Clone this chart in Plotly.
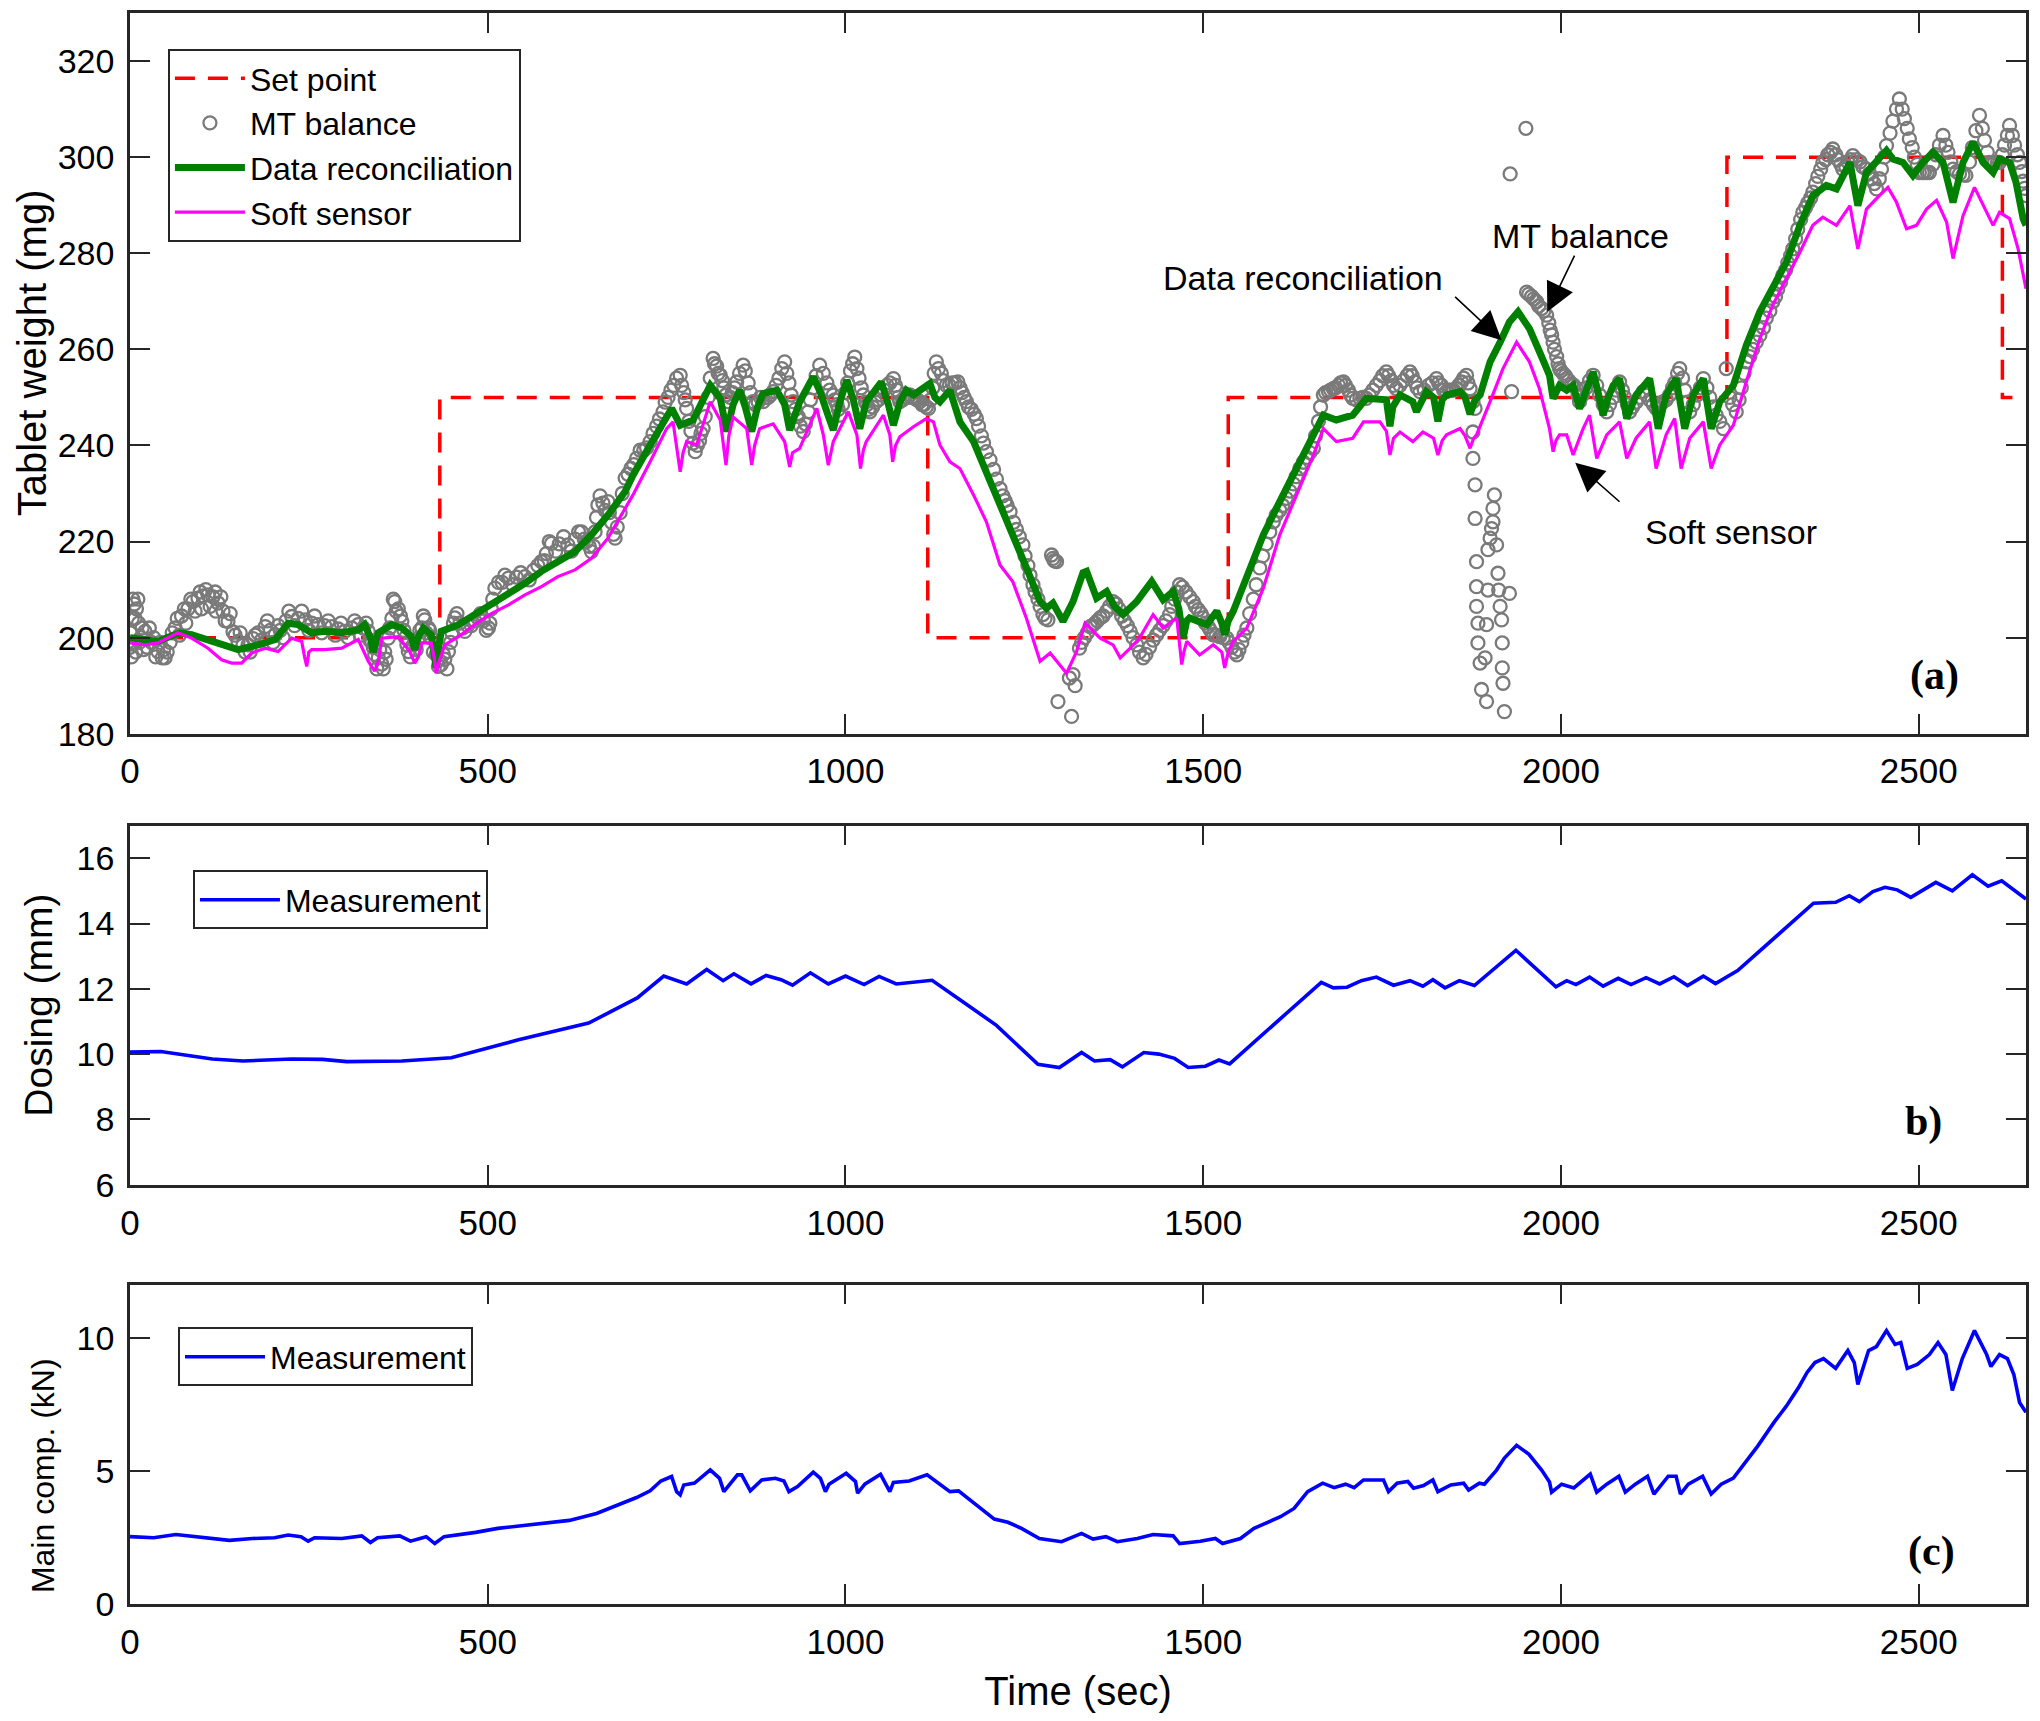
import plotly.graph_objects as go

# ---------------- data ----------------
setpoint_t = [0, 433, 433, 1115, 1115, 1535, 1535, 2232, 2232, 2617, 2617, 2631]
setpoint_v = [200, 200, 250, 250, 200, 200, 250, 250, 300, 300, 250, 250]

recon_pts = [
    (0, 200.0), (20, 199.5), (39, 199.2), (55, 200.2), (70, 201.0), (86, 200.6), (109, 199.6), (133, 198.2),
    (151, 197.5), (179, 198.5), (203, 199.6), (221, 203.0), (235, 202.7), (254, 201.0), (272, 201.3), (296, 201.0),
    (319, 201.6), (328, 202.7), (336, 200.0), (340, 197.0), (344, 199.5), (347, 201.0), (366, 202.7), (380, 202.0),
    (393, 200.3), (398, 197.5), (404, 200.5), (410, 202.0), (421, 200.6), (426, 196.0), (428, 193.7), (431, 197.5),
    (435, 201.3), (459, 202.7), (482, 204.8), (505, 206.8), (529, 208.9), (552, 211.3), (575, 213.8), (598, 215.8),
    (622, 217.9), (645, 221.4), (668, 225.5), (692, 230.4), (703, 233.8), (727, 240.1), (750, 246.3), (757, 247.7),
    (763, 246.0), (769, 244.2), (787, 245.3), (800, 249.0), (811, 252.5), (825, 249.8), (834, 242.9), (843, 248.5),
    (852, 251.5), (860, 248.0), (869, 242.9), (877, 248.0), (885, 250.8), (904, 251.5), (915, 248.5), (922, 243.2),
    (929, 246.0), (936, 249.1), (955, 254.3), (965, 251.0), (974, 247.0), (983, 243.2), (992, 249.0), (1002, 253.6),
    (1011, 249.5), (1020, 243.5), (1029, 249.1), (1040, 251.0), (1050, 253.2), (1060, 248.5), (1067, 244.2),
    (1076, 249.0), (1085, 251.5), (1095, 250.5), (1104, 251.5), (1118, 252.9), (1125, 250.0), (1132, 249.1),
    (1146, 251.5), (1160, 244.9), (1179, 240.8), (1197, 234.5), (1216, 228.3), (1234, 221.4), (1253, 214.5),
    (1272, 207.5), (1281, 206.1), (1290, 207.2), (1304, 203.4), (1318, 207.5), (1332, 213.5), (1337, 213.8),
    (1351, 208.2), (1365, 209.6), (1376, 206.5), (1388, 204.8), (1407, 207.5), (1428, 211.7), (1444, 207.9),
    (1458, 209.6), (1466, 206.0), (1472, 199.9), (1477, 203.5), (1481, 204.1), (1505, 202.7), (1519, 205.5),
    (1526, 203.0), (1530, 200.6), (1535, 203.5), (1542, 205.5), (1561, 213.1), (1584, 221.4), (1607, 228.3),
    (1630, 235.2), (1654, 242.2), (1668, 246.3), (1686, 245.3), (1709, 246.3), (1728, 249.8), (1747, 249.8),
    (1756, 249.5), (1761, 244.0), (1765, 248.0), (1775, 250.5), (1793, 249.1), (1798, 247.0), (1805, 249.5),
    (1812, 251.2), (1822, 250.0), (1828, 245.0), (1834, 249.5), (1840, 250.5), (1859, 251.2), (1866, 250.0),
    (1873, 246.5), (1880, 249.5), (1887, 250.5), (1901, 257.4), (1915, 261.5), (1928, 265.7), (1940, 267.8),
    (1956, 264.3), (1970, 259.5), (1984, 254.6), (1989, 249.8), (1998, 252.5), (2008, 251.5), (2017, 252.5),
    (2026, 247.7), (2035, 251.5), (2045, 255.3), (2052, 251.0), (2059, 246.3), (2066, 250.0), (2073, 252.5),
    (2082, 253.9), (2092, 245.6), (2105, 250.5), (2124, 253.9), (2136, 243.5), (2147, 250.5), (2161, 253.9),
    (2173, 243.5), (2185, 250.5), (2199, 253.9), (2210, 243.5), (2222, 249.1), (2241, 252.5), (2259, 260.8),
    (2278, 267.8), (2296, 272.6), (2315, 278.1), (2334, 285.8), (2352, 292.0), (2371, 294.1), (2385, 293.4),
    (2404, 298.9), (2415, 289.9), (2427, 296.8), (2445, 299.6), (2455, 301.4), (2464, 299.6), (2478, 298.9),
    (2492, 296.2), (2506, 298.9), (2520, 301.0), (2534, 298.9), (2548, 290.6), (2562, 298.9), (2576, 303.1),
    (2590, 298.9), (2604, 296.8), (2613, 299.6), (2627, 298.9), (2636, 294.8), (2646, 287.2), (2650, 285.8),
]

soft_pts = [
    (0, 198.9), (21, 198.5), (39, 198.9), (55, 200.0), (67, 201.0), (86, 199.9), (109, 197.8), (128, 195.4),
    (142, 194.7), (156, 194.7), (170, 196.8), (189, 197.8), (207, 197.1), (226, 199.9), (240, 199.2), (244, 196.0),
    (247, 194.0), (250, 197.0), (254, 197.5), (272, 197.5), (296, 197.8), (319, 199.6), (333, 195.1), (342, 193.0),
    (347, 195.0), (352, 199.9), (375, 200.2), (391, 197.1), (398, 194.7), (403, 196.0), (408, 198.9), (421, 198.9),
    (425, 196.0), (428, 192.6), (432, 195.0), (440, 198.5), (459, 200.2), (482, 202.7), (505, 205.0), (529, 206.8),
    (552, 208.9), (575, 210.6), (598, 212.7), (622, 214.1), (645, 216.5), (668, 220.7), (692, 226.9), (703, 229.7),
    (727, 236.6), (750, 243.5), (759, 244.9), (765, 238.0), (769, 234.5), (773, 238.5), (778, 240.8), (792, 240.1),
    (811, 249.1), (825, 245.3), (829, 241.0), (833, 235.9), (837, 242.0), (843, 245.9), (862, 243.5), (866, 239.0),
    (869, 235.9), (873, 240.0), (880, 243.5), (899, 244.5), (915, 240.8), (922, 235.5), (926, 238.5), (936, 239.4),
    (960, 247.7), (969, 242.2), (976, 235.9), (983, 240.8), (1004, 247.0), (1016, 242.2), (1021, 235.2),
    (1025, 239.0), (1029, 240.8), (1053, 246.3), (1062, 242.2), (1066, 236.6), (1070, 240.0), (1076, 241.8),
    (1095, 243.9), (1113, 245.6), (1123, 244.9), (1132, 240.1), (1146, 236.6), (1160, 235.2), (1179, 229.7),
    (1197, 224.1), (1216, 215.1), (1234, 211.6), (1253, 204.0), (1272, 195.1), (1286, 196.8), (1309, 192.6),
    (1323, 197.1), (1335, 203.0), (1342, 202.0), (1356, 199.9), (1374, 198.5), (1384, 195.8), (1398, 197.8),
    (1411, 199.9), (1430, 204.8), (1444, 202.0), (1463, 204.1), (1467, 199.0), (1470, 194.4), (1473, 197.0),
    (1477, 199.2), (1495, 196.4), (1514, 198.5), (1526, 197.0), (1530, 193.7), (1535, 197.0), (1542, 199.2),
    (1561, 202.0), (1584, 210.3), (1607, 221.4), (1630, 229.7), (1654, 238.0), (1668, 243.5), (1686, 240.8),
    (1709, 241.5), (1724, 244.9), (1747, 244.9), (1756, 243.0), (1761, 238.0), (1766, 241.5), (1775, 242.8),
    (1793, 240.8), (1807, 242.8), (1822, 241.5), (1828, 238.0), (1834, 241.0), (1840, 242.2), (1859, 243.5),
    (1866, 242.0), (1873, 239.4), (1878, 241.5), (1882, 242.2), (1901, 249.1), (1919, 256.0), (1938, 261.5),
    (1956, 257.4), (1970, 251.8), (1984, 243.5), (1989, 238.7), (1993, 241.0), (1998, 242.2), (2008, 242.2),
    (2017, 238.0), (2031, 243.5), (2040, 246.3), (2050, 237.3), (2064, 242.2), (2082, 244.9), (2092, 237.3),
    (2105, 241.5), (2124, 244.9), (2133, 235.2), (2147, 242.2), (2159, 245.6), (2168, 235.2), (2180, 241.5),
    (2199, 244.9), (2210, 235.2), (2222, 240.1), (2241, 244.2), (2259, 253.2), (2278, 262.2), (2296, 269.2),
    (2315, 274.7), (2334, 280.2), (2352, 285.8), (2366, 287.5), (2385, 285.8), (2404, 289.9), (2415, 280.9),
    (2427, 289.2), (2445, 292.0), (2457, 293.7), (2469, 290.6), (2483, 285.1), (2497, 285.8), (2511, 289.2),
    (2525, 291.0), (2539, 286.5), (2548, 278.9), (2562, 287.8), (2578, 293.7), (2590, 289.9), (2604, 285.8),
    (2613, 288.5), (2627, 287.2), (2639, 280.9), (2646, 275.4), (2650, 272.6),
]

# MT balance: centre of the circle band, isolated outliers, and a second row of circles spread across the band
mt_pts = [
    (0, 198), (3, 204), (6, 207), (9, 206), (12, 203), (15, 200), (21, 201.3), (30, 199), (39, 197.1), (45, 195.8),
    (49, 195.8), (56, 199), (63, 202), (72, 204.5), (81, 206), (88, 207.5), (95, 208.2), (102, 208.7), (109, 208.9),
    (116, 208.5), (123, 207.2), (130, 205.5), (137, 203.4), (144, 201.2), (151, 199.2), (158, 198.5), (165, 198.5),
    (172, 199.8), (179, 201), (189, 202.3), (196, 201.5), (203, 200.6), (210, 201.5), (218, 203.5), (226, 204.4),
    (235, 204), (245, 203.7), (254, 203), (263, 202.7), (272, 202.5), (282, 202.3), (291, 201.8), (300, 201.3),
    (310, 202), (319, 202.7), (326, 202), (333, 201.3), (338, 199), (342, 196.5), (347, 195.8), (352, 194.5),
    (356, 197), (361, 199.9), (366, 204), (370, 207.5), (375, 206), (380, 203.4), (385, 200), (389, 197.1),
    (396, 198.5), (403, 199.9), (408, 202), (412, 203.7), (417, 202), (421, 199.9), (428, 196.5), (435, 194.4),
    (440, 195.5), (445, 197.1), (450, 201), (454, 204.1), (461, 203), (468, 201.3), (477, 202.5), (487, 204.1),
    (494, 203.5), (501, 202), (505, 206), (510, 210.3), (520, 211.5), (529, 212.4), (540, 212.6), (552, 212.7),
    (564, 214), (575, 215.8), (582, 217.5), (589, 219.6), (600, 219.5), (612, 219.3), (622, 220.5), (631, 222),
    (638, 220), (645, 217.9), (650, 222), (654, 227.6), (661, 228), (668, 228.3), (673, 224), (678, 220.7),
    (685, 226), (692, 233.2), (700, 235.2), (708, 237.3), (718, 239), (727, 240.8), (736, 244), (745, 247),
    (752, 250), (760, 252.5), (769, 254.6), (774, 251), (778, 247.7), (784, 243), (790, 238.7), (796, 241),
    (801, 243.5), (808, 250), (815, 258.1), (820, 256.5), (825, 254.6), (830, 252), (836, 249.1), (842, 251),
    (848, 253.2), (857, 256.7), (864, 253), (871, 249.1), (878, 249), (885, 249.1), (892, 250), (899, 251.2),
    (907, 254), (915, 257.4), (921, 253), (927, 249.1), (934, 246), (941, 242.9), (948, 247), (955, 252),
    (964, 256.7), (974, 253), (983, 250.5), (988, 248.5), (992, 246.3), (1000, 251), (1007, 255.5), (1013, 258.4),
    (1019, 254), (1025, 250.5), (1030, 248.5), (1034, 247), (1042, 249), (1050, 250.5), (1058, 252.5),
    (1067, 253.9), (1072, 251.5), (1076, 249.1), (1083, 250), (1090, 250.5), (1097, 249.8), (1104, 249.1),
    (1110, 248.5), (1116, 247.7), (1122, 252), (1127, 257.4), (1134, 255), (1141, 252.5), (1149, 253),
    (1157, 253.2), (1163, 251), (1169, 249.1), (1176, 247.5), (1183, 245.6), (1190, 242), (1197, 238.7),
    (1207, 235), (1216, 231), (1223, 228.5), (1230, 226.2), (1239, 222.5), (1248, 219.3), (1255, 215), (1262, 211),
    (1269, 208), (1276, 204.8), (1283, 203.7), (1288, 217.2), (1292, 216), (1295, 215.8), (1297, 186.7),
    (1313, 191.6), (1316, 183.6), (1318, 192.3), (1321, 190), (1327, 197.8), (1334, 200), (1342, 202.3),
    (1349, 203), (1356, 204.1), (1365, 205.5), (1374, 207.5), (1382, 206), (1390, 203.5), (1398, 201.3),
    (1407, 198.5), (1416, 195.8), (1425, 198), (1435, 200.6), (1444, 202.5), (1453, 204.8), (1460, 208),
    (1467, 211), (1476, 209.5), (1486, 207.5), (1493, 205.8), (1500, 204.1), (1507, 202.3), (1514, 200.6),
    (1523, 200.2), (1533, 199.9), (1540, 198), (1547, 196.4), (1554, 199), (1561, 202), (1570, 208), (1579, 214.5),
    (1588, 219.5), (1598, 224.1), (1607, 226.5), (1616, 229), (1626, 232), (1635, 235.2), (1645, 237.5),
    (1654, 239.4), (1661, 245), (1668, 250.5), (1675, 251.2), (1682, 251.8), (1689, 252.5), (1696, 253.2),
    (1703, 251.5), (1709, 249.8), (1719, 249.8), (1728, 249.8), (1737, 251.5), (1747, 253.5), (1756, 255.3),
    (1763, 253.5), (1770, 251.8), (1780, 253.5), (1789, 255.3), (1796, 253.2), (1803, 251.2), (1815, 252.5),
    (1826, 253.9), (1833, 252.5), (1840, 251.2), (1847, 251.5), (1854, 251.8), (1861, 253.2), (1868, 254.6),
    (1873, 251.8), (1877, 249.1), (1880, 247.7), (1877, 242.8), (1877, 237.3), (1880, 231.8), (1880, 224.8),
    (1882, 215.8), (1882, 210.6), (1882, 206.5), (1884, 203), (1884, 198.9), (1887, 194.7), (1889, 189.2),
    (1896, 186.7), (1894, 195.8), (1896, 202.7), (1898, 209.9), (1898, 218.3), (1901, 220.7), (1903, 222.7),
    (1905, 224.1), (1907, 229.7), (1905, 226.9), (1910, 219.3), (1912, 213.4), (1913, 209.9), (1915, 206.5),
    (1917, 203.7), (1918, 198.9), (1918, 193.7), (1919, 190.5), (1921, 184.6), (1928, 209.2), (1931, 251.2),
    (1929, 296.5), (1951, 306.0), (1952, 271.9), (1959, 271), (1966, 269.9), (1973, 268.5), (1980, 267.1),
    (1985, 264), (1989, 261.5), (1994, 258.5), (1998, 256), (2003, 255), (2008, 253.9), (2015, 252.8),
    (2022, 251.8), (2026, 249.1), (2035, 252), (2045, 254.6), (2054, 250.5), (2064, 247), (2073, 250),
    (2082, 253.2), (2089, 250), (2096, 247), (2105, 249), (2115, 251.2), (2124, 249.5), (2133, 247.7), (2142, 249),
    (2152, 250.5), (2159, 253), (2166, 256), (2173, 251.5), (2180, 247), (2190, 250.5), (2199, 253.9), (2208, 250),
    (2217, 246.3), (2227, 243.5), (2231, 256), (2236, 250), (2245, 247), (2252, 252), (2259, 257.4), (2268, 260),
    (2278, 262.9), (2287, 266.5), (2296, 269.9), (2303, 272.5), (2310, 275.4), (2317, 278), (2324, 280.9),
    (2331, 285), (2338, 288.5), (2345, 290.5), (2352, 292.7), (2359, 296), (2366, 298.9), (2373, 300.5),
    (2380, 301.7), (2387, 299.5), (2394, 297.5), (2401, 299), (2408, 300.3), (2418, 299), (2427, 297.5),
    (2434, 295.5), (2441, 293.4), (2448, 297.5), (2455, 302.4), (2464, 307.5), (2473, 312.1), (2480, 308),
    (2487, 303.8), (2494, 300), (2501, 296.8), (2508, 296.8), (2515, 296.8), (2524, 300.5), (2534, 304.5),
    (2541, 301), (2548, 297.5), (2557, 296.5), (2566, 296.2), (2575, 302), (2585, 308.7), (2592, 303.5),
    (2599, 298.9), (2606, 298.9), (2613, 298.9), (2620, 302.5), (2627, 306.6), (2634, 302.5), (2641, 298.9),
    (2646, 295), (2650, 292),
]

mt_band_pts = [
    (1, 201), (2, 196), (4, 208), (5, 199), (7, 204), (8, 197), (11, 208), (13, 199), (17, 202), (19, 197.5),
    (24, 198), (27, 202), (33, 200), (36, 196), (42, 199), (47, 197.5), (52, 197), (59, 201), (66, 204),
    (69, 200.5), (76, 206), (78, 203), (85, 208), (91, 205.5), (98, 209.5), (100, 206), (106, 210), (112, 206.5),
    (119, 209.5), (120, 205.5), (127, 208.5), (133, 203.5), (140, 205), (147, 200.5), (154, 201), (161, 197),
    (168, 197), (175, 200.5), (184, 199.5), (192, 203.5), (200, 199), (207, 202.5), (214, 200), (222, 205.5),
    (230, 202.5), (240, 205.5), (250, 201.5), (258, 204.5), (268, 201), (277, 203.5), (287, 200.5), (295, 203),
    (305, 200), (314, 203.5), (322, 200.5), (330, 203), (335, 199.5), (340, 198), (345, 193.5), (349, 197.5),
    (354, 193.5), (358, 195.5), (363, 202), (368, 208), (372, 205.5), (378, 204.5), (383, 201.5), (387, 198.5),
    (392, 196), (400, 197.5), (405, 201.5), (410, 204.5), (414, 201), (419, 201.5), (424, 197), (431, 194),
    (438, 196.5), (443, 193.5), (448, 199), (452, 203), (457, 205), (465, 202), (472, 202.5), (482, 203.5),
    (490, 205), (498, 201.5), (503, 203), (507, 208), (515, 211.5), (524, 213), (535, 211), (546, 213.5),
    (558, 212), (570, 215), (579, 216), (586, 220), (595, 218), (606, 221), (617, 218), (627, 222), (635, 220.5),
    (642, 219), (648, 219), (652, 225), (657, 229.5), (664, 226.5), (670, 226), (676, 221.5), (681, 223),
    (688, 230), (696, 234), (704, 236), (713, 239), (722, 239.5), (731, 242.5), (740, 245.5), (748, 249),
    (756, 251.5), (764, 254), (771, 252.5), (776, 249.5), (781, 245), (787, 240.5), (793, 240), (798, 242.5),
    (804, 246), (811, 254), (817, 257), (822, 255), (828, 253.5), (833, 250.5), (839, 250), (845, 252),
    (852, 255), (860, 255.5), (867, 251), (874, 248.5), (881, 250), (888, 250), (895, 250.5), (903, 252.5),
    (911, 256), (918, 255), (924, 250.5), (930, 247.5), (937, 244), (944, 244.5), (951, 249.5), (959, 254.5),
    (969, 255), (978, 251.5), (985, 249.5), (990, 247.5), (996, 248.5), (1003, 253), (1010, 257), (1016, 256),
    (1022, 252), (1028, 249), (1032, 247.5), (1038, 248), (1046, 249.5), (1054, 251.5), (1062, 253),
    (1070, 252.5), (1074, 250), (1080, 249.5), (1087, 250), (1093, 250), (1100, 249.5), (1107, 248.5),
    (1113, 248), (1119, 249.5), (1124, 255), (1130, 256), (1137, 253.5), (1145, 252.5), (1153, 253),
    (1160, 252), (1166, 250), (1172, 248), (1180, 246.5), (1186, 244), (1193, 240.5), (1202, 237), (1211, 233),
    (1220, 229.5), (1226, 227.5), (1235, 224), (1243, 221), (1251, 217), (1258, 213), (1265, 209.5),
    (1272, 206.5), (1279, 204), (1290, 216.5), (1330, 199), (1338, 201), (1345, 202.5), (1352, 203.5),
    (1360, 204.5), (1369, 206.5), (1378, 207), (1386, 204.5), (1394, 202.5), (1402, 200), (1411, 197),
    (1420, 196.5), (1430, 199.5), (1439, 201.5), (1448, 203.5), (1456, 206.5), (1463, 209.5), (1471, 210.5),
    (1481, 208.5), (1489, 206.5), (1497, 205), (1503, 203), (1510, 201.5), (1518, 200.5), (1528, 200),
    (1536, 199), (1544, 197), (1550, 197.5), (1557, 200.5), (1565, 205), (1574, 211), (1583, 217), (1593, 222),
    (1602, 225.5), (1611, 227.5), (1621, 230.5), (1630, 233.5), (1640, 236.5), (1649, 238.5), (1657, 242),
    (1664, 248), (1671, 251), (1678, 251.5), (1685, 252), (1692, 253), (1699, 252.5), (1706, 250.5),
    (1714, 249.5), (1723, 250), (1732, 250.5), (1742, 252.5), (1751, 254.5), (1759, 254.5), (1766, 252.5),
    (1775, 252.5), (1785, 254.5), (1792, 254.5), (1799, 252), (1809, 251.5), (1820, 253), (1829, 253),
    (1836, 251.5), (1844, 251.5), (1850, 251.5), (1857, 252.5), (1864, 254), (1870, 253), (1955, 271.5),
    (1962, 270.5), (1969, 269), (1976, 268), (1983, 265.5), (1987, 263), (1991, 260), (1996, 257), (2000, 255.5),
    (2006, 254.5), (2011, 253.5), (2018, 252.5), (2024, 250.5), (2030, 250.5), (2040, 253.5), (2050, 252.5),
    (2059, 248.5), (2068, 248.5), (2077, 251.5), (2086, 251.5), (2093, 248.5), (2100, 248), (2110, 250),
    (2120, 250.5), (2129, 248.5), (2138, 248.5), (2147, 249.5), (2156, 252), (2163, 255), (2170, 254),
    (2177, 249), (2185, 248.5), (2195, 252), (2204, 252), (2213, 248), (2222, 245), (2240, 248.5), (2249, 249.5),
    (2256, 255), (2264, 258.5), (2273, 261.5), (2283, 264.5), (2292, 268), (2300, 271), (2307, 274),
    (2314, 276.5), (2321, 279.5), (2328, 283), (2335, 287), (2342, 289.5), (2349, 291.5), (2356, 294.5),
    (2363, 297.5), (2370, 299.5), (2377, 301), (2384, 300.5), (2391, 298.5), (2398, 298), (2405, 299.5),
    (2413, 299.5), (2422, 298), (2431, 296.5), (2438, 294.5), (2445, 295.5), (2452, 300), (2460, 305),
    (2469, 310), (2477, 310), (2484, 306), (2491, 302), (2498, 298.5), (2505, 296.8), (2512, 296.8),
    (2520, 298.5), (2529, 302.5), (2538, 302.5), (2545, 299), (2553, 297), (2562, 296.3), (2571, 299),
    (2580, 305.5), (2589, 306), (2596, 301), (2603, 298.9), (2610, 298.9), (2617, 300.5), (2624, 304.5),
    (2631, 304.5), (2638, 300.5), (2644, 297), (2648, 293.5),
]

dosing_pts = [
    (0, 10.06), (43, 10.08), (115, 9.85), (158, 9.79), (226, 9.85), (269, 9.84), (303, 9.77), (380, 9.79),
    (449, 9.89), (543, 10.44), (641, 10.95), (709, 11.72), (746, 12.39), (778, 12.15), (806, 12.59), (829, 12.25),
    (844, 12.46), (868, 12.15), (889, 12.41), (910, 12.28), (926, 12.11), (951, 12.49), (976, 12.15), (1000, 12.39),
    (1026, 12.13), (1047, 12.38), (1071, 12.15), (1098, 12.21), (1121, 12.26), (1167, 11.56), (1211, 10.88),
    (1269, 9.69), (1299, 9.59), (1330, 10.05), (1348, 9.79), (1370, 9.83), (1387, 9.61), (1417, 10.05),
    (1438, 10.0), (1460, 9.87), (1479, 9.59), (1503, 9.63), (1522, 9.82), (1537, 9.70), (1665, 12.2),
    (1682, 12.03), (1701, 12.05), (1721, 12.25), (1742, 12.36), (1766, 12.11), (1789, 12.25), (1807, 12.08),
    (1821, 12.28), (1838, 12.03), (1858, 12.25), (1879, 12.1), (1937, 13.18), (1993, 12.06), (2008, 12.25),
    (2021, 12.13), (2040, 12.36), (2059, 12.08), (2080, 12.32), (2098, 12.13), (2119, 12.34), (2138, 12.15),
    (2158, 12.37), (2177, 12.1), (2199, 12.39), (2216, 12.16), (2247, 12.56), (2353, 14.62), (2384, 14.65),
    (2403, 14.85), (2417, 14.67), (2436, 14.98), (2453, 15.11), (2470, 15.03), (2489, 14.8), (2524, 15.26),
    (2547, 15.0), (2575, 15.49), (2597, 15.14), (2616, 15.31), (2650, 14.75),
]

comp_pts = [
    (0, 2.53), (33, 2.49), (64, 2.61), (96, 2.53), (139, 2.39), (171, 2.46), (202, 2.49), (221, 2.59), (239, 2.53),
    (249, 2.36), (258, 2.49), (296, 2.46), (324, 2.56), (336, 2.31), (346, 2.49), (377, 2.56), (392, 2.36),
    (414, 2.53), (426, 2.27), (439, 2.53), (483, 2.69), (514, 2.84), (546, 2.93), (577, 3.02), (614, 3.14),
    (652, 3.40), (683, 3.72), (708, 4.0), (727, 4.25), (742, 4.62), (757, 4.79), (764, 4.22), (769, 4.10),
    (774, 4.47), (789, 4.54), (811, 5.04), (824, 4.72), (830, 4.22), (849, 4.85), (855, 4.85), (867, 4.25),
    (883, 4.66), (902, 4.72), (914, 4.62), (921, 4.22), (933, 4.41), (955, 4.95), (965, 4.72), (972, 4.22),
    (977, 4.5), (1001, 4.91), (1014, 4.6), (1017, 4.16), (1027, 4.5), (1049, 4.87), (1062, 4.22), (1067, 4.57),
    (1089, 4.62), (1114, 4.85), (1127, 4.6), (1146, 4.22), (1158, 4.25), (1189, 3.59), (1208, 3.19), (1227, 3.07),
    (1246, 2.84), (1271, 2.46), (1302, 2.34), (1330, 2.65), (1346, 2.44), (1364, 2.53), (1380, 2.34), (1408, 2.46),
    (1430, 2.61), (1458, 2.56), (1467, 2.27), (1496, 2.36), (1517, 2.46), (1527, 2.27), (1552, 2.46), (1571, 2.84),
    (1608, 3.28), (1627, 3.59), (1646, 4.22), (1667, 4.54), (1683, 4.37), (1699, 4.5), (1711, 4.37), (1724, 4.66),
    (1752, 4.66), (1759, 4.22), (1771, 4.54), (1786, 4.6), (1794, 4.35), (1808, 4.45), (1821, 4.66), (1828, 4.22),
    (1846, 4.47), (1864, 4.54), (1871, 4.28), (1886, 4.54), (1893, 4.5), (1910, 5.03), (1921, 5.48), (1938, 5.96),
    (1955, 5.63), (1973, 5.03), (1984, 4.58), (1987, 4.2), (2001, 4.5), (2018, 4.36), (2041, 4.88), (2050, 4.2),
    (2064, 4.5), (2081, 4.8), (2090, 4.2), (2104, 4.5), (2121, 4.8), (2130, 4.13), (2150, 4.8), (2161, 4.8),
    (2167, 4.13), (2178, 4.5), (2198, 4.8), (2210, 4.13), (2224, 4.5), (2241, 4.73), (2258, 5.33), (2275, 5.93),
    (2298, 6.83), (2315, 7.43), (2333, 8.17), (2344, 8.7), (2355, 9.07), (2367, 9.22), (2384, 8.85), (2401, 9.52),
    (2410, 9.07), (2415, 8.25), (2430, 9.52), (2441, 9.67), (2455, 10.27), (2467, 9.75), (2475, 9.82),
    (2484, 8.85), (2498, 9.0), (2515, 9.37), (2527, 9.82), (2538, 9.37), (2547, 8.02), (2561, 9.22), (2578, 10.27),
    (2595, 9.37), (2601, 8.92), (2613, 9.37), (2624, 9.22), (2633, 8.62), (2641, 7.57), (2644, 7.43), (2650, 7.2),
]

x_ticks = [0, 500, 1000, 1500, 2000, 2500]
ya_ticks = [180, 200, 220, 240, 260, 280, 300, 320]
yb_ticks = [6, 8, 10, 12, 14, 16]
yc_ticks = [0, 5, 10]

# ---------------- figure ----------------
FONT = "Liberation Sans, Arial, Helvetica, sans-serif"
AX = "#262626"


def cols(pts):
    return [p[0] for p in pts], [p[1] for p in pts]


fig = go.Figure()

fig.add_trace(go.Scatter(x=setpoint_t, y=setpoint_v, mode="lines", name="Set point",
                         line=dict(color="#FF0000", width=3.5, dash="20px,13px"),
                         xaxis="x", yaxis="y", legend="legend"))
mt_t, mt_v = cols(mt_pts + mt_band_pts)
fig.add_trace(go.Scatter(x=mt_t, y=mt_v, mode="markers", name="MT balance",
                         marker=dict(symbol="circle-open", size=13, color="#7A7A7A",
                                     line=dict(width=2.3, color="#7A7A7A")),
                         xaxis="x", yaxis="y", legend="legend"))
rc_t, rc_v = cols(recon_pts)
fig.add_trace(go.Scatter(x=rc_t, y=rc_v, mode="lines", name="Data reconciliation",
                         line=dict(color="#008000", width=7),
                         xaxis="x", yaxis="y", legend="legend"))
ss_t, ss_v = cols(soft_pts)
fig.add_trace(go.Scatter(x=ss_t, y=ss_v, mode="lines", name="Soft sensor",
                         line=dict(color="#FF00FF", width=3.2),
                         xaxis="x", yaxis="y", legend="legend"))

ds_t, ds_v = cols(dosing_pts)
fig.add_trace(go.Scatter(x=ds_t, y=ds_v, mode="lines", name="Measurement",
                         line=dict(color="#0000FF", width=3.6),
                         xaxis="x2", yaxis="y2", legend="legend2"))
cp_t, cp_v = cols(comp_pts)
fig.add_trace(go.Scatter(x=cp_t, y=cp_v, mode="lines", name="Measurement",
                         line=dict(color="#0000FF", width=3.6),
                         xaxis="x3", yaxis="y3", legend="legend3"))


def xax(anchor, title=None):
    d = dict(domain=[0, 1], anchor=anchor, range=[0, 2650], tickmode="array", tickvals=x_ticks,
             ticks="inside", ticklen=20, tickwidth=2, tickcolor=AX, showline=True, linecolor=AX,
             linewidth=2.5, mirror="ticks", showgrid=False, zeroline=False,
             tickfont=dict(family=FONT, size=35, color="black"), ticklabelstandoff=5)
    if title:
        d["title"] = dict(text=title, font=dict(family=FONT, size=40, color="black"), standoff=20)
    return d


def yax(anchor, dom, rng, tv, title=None, tsize=38):
    d = dict(domain=dom, anchor=anchor, range=rng, tickmode="array", tickvals=tv,
             ticks="inside", ticklen=20, tickwidth=2, tickcolor=AX, showline=True, linecolor=AX,
             linewidth=2.5, mirror="ticks", showgrid=False, zeroline=False,
             tickfont=dict(family=FONT, size=34, color="black"), ticklabelstandoff=6)
    if title:
        d["title"] = dict(text=title, font=dict(family=FONT, size=tsize, color="black"), standoff=12)
    return d


leg_common = dict(font=dict(family=FONT, size=32, color="black"), bgcolor="white",
                  bordercolor=AX, borderwidth=2, xanchor="left", yanchor="top", tracegroupgap=0)

fig.update_layout(
    width=2024, height=1705,
    margin=dict(l=122, r=6, t=2, b=109),
    paper_bgcolor="white", plot_bgcolor="white",
    font=dict(family=FONT, color="black"),
    xaxis=xax("y"), xaxis2=xax("y2"), xaxis3=xax("y3", "Time (sec)"),
    yaxis=yax("x", [0.547, 1.0], [180, 330], ya_ticks),
    yaxis2=yax("x2", [0.2635, 0.4893], [6, 17], yb_ticks, "Dosing (mm)", 39),
    yaxis3=yax("x3", [0.0, 0.2008], [0, 12], yc_ticks),
    legend=dict(x=0.020, y=0.9774, itemwidth=70, **leg_common),
    legend2=dict(x=0.0332, y=0.4611, itemwidth=80, **leg_common),
    legend3=dict(x=0.0253, y=0.1738, itemwidth=80, **leg_common),
    showlegend=True,
)

# y-axis titles of panels (a) and (c), placed where the reference has them
fig.add_annotation(x=-0.0517, y=0.7867, xref="paper", yref="paper", text="Tablet weight (mg)", textangle=-90,
                   showarrow=False, xanchor="center", yanchor="middle",
                   font=dict(family=FONT, size=40, color="black"))
fig.add_annotation(x=-0.0459, y=0.081, xref="paper", yref="paper", text="Main comp. (kN)", textangle=-90,
                   showarrow=False, xanchor="center", yanchor="middle",
                   font=dict(family=FONT, size=32, color="black"))

ann_font = dict(family=FONT, size=34, color="black")
for txt, tx, ty in [("Data reconciliation", 1640, 274.8), ("MT balance", 2028, 283.6), ("Soft sensor", 2237, 221.9)]:
    fig.add_annotation(x=tx, y=ty, xref="x", yref="y", text=txt, showarrow=False, font=ann_font,
                       xanchor="center", yanchor="middle")

for tip_x, tip_y, tail_x, tail_y in [(1917, 261.9, 1850, 271.2), (1981, 267.8, 2020, 279.8), (2020, 236.4, 2084, 228.0)]:
    fig.add_annotation(x=tip_x, y=tip_y, xref="x", yref="y", ax=tail_x, ay=tail_y, axref="x", ayref="y",
                       text="", showarrow=True, arrowhead=2, arrowsize=3.6, arrowwidth=1.6, arrowcolor="black")

lab_font = dict(family="Liberation Serif, Times New Roman, serif", size=42, color="black")
for txt, px, py in [("<b>(a)</b>", 0.952, 0.5834), ("<b>b)</b>", 0.946, 0.303), ("<b>(c)</b>", 0.9504, 0.0333)]:
    fig.add_annotation(x=px, y=py, xref="paper", yref="paper", text=txt, showarrow=False, font=lab_font,
                       xanchor="center", yanchor="middle")

fig.write_html("out.html")
